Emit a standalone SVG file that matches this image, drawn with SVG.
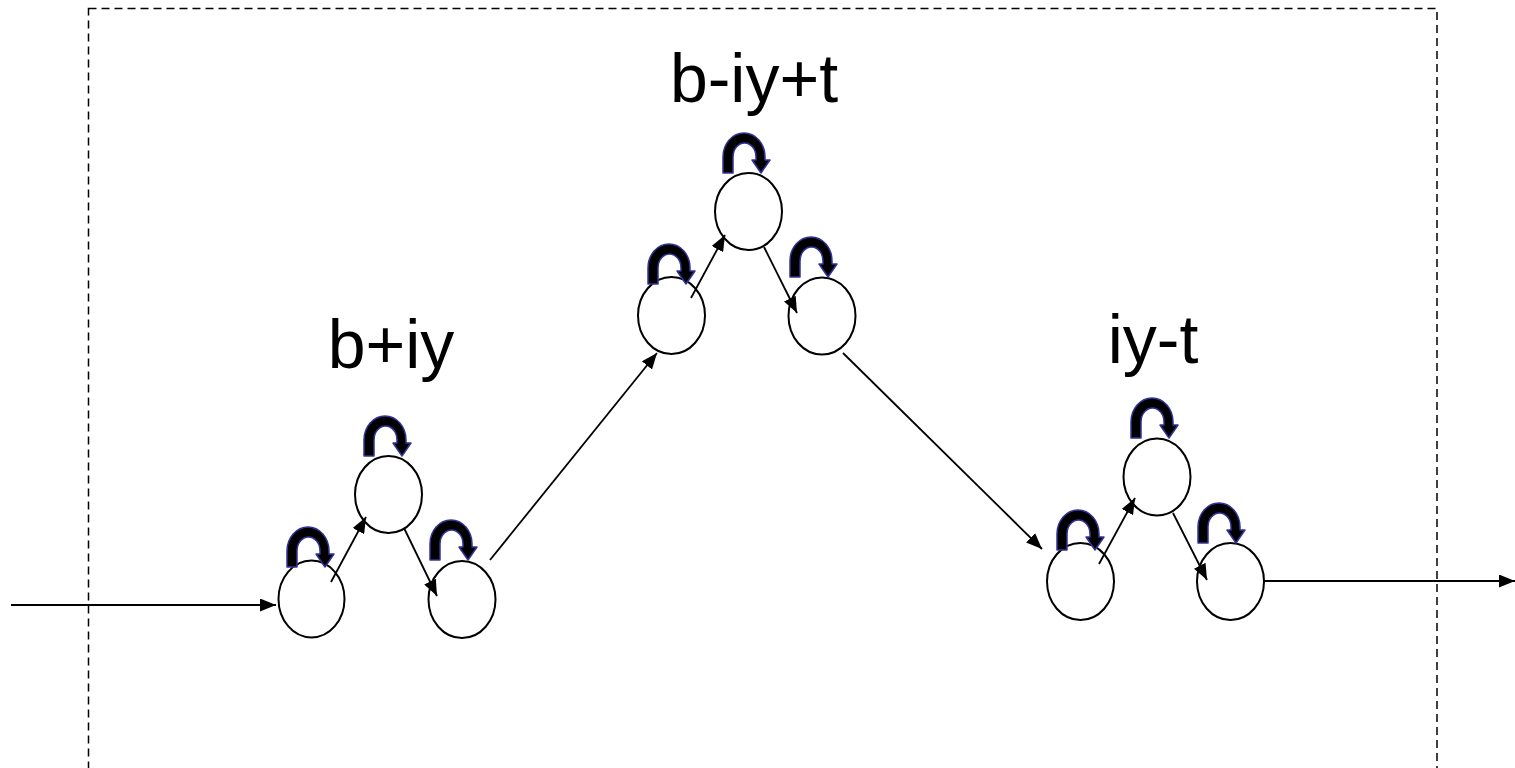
<svg xmlns="http://www.w3.org/2000/svg" width="1515" height="768" viewBox="0 0 1515 768">
  <style>
    .st { fill: none; stroke: #000; stroke-width: 2; }
    .ln { fill: none; stroke: #000; stroke-width: 1.8; marker-end: url(#ah); }
    .lbl { font-family: "Liberation Sans", Arial, sans-serif; font-size: 68px; fill: #000; text-anchor: middle; }
    .loop { fill: #000; stroke: #333399; stroke-width: 1.5; stroke-linejoin: round; }
    .frame { fill: none; stroke: #000; stroke-width: 1.5; stroke-dasharray: 8 5; }
  </style>
  <defs>
    <marker id="ah" markerWidth="16" markerHeight="13" refX="16" refY="6.5" orient="auto" markerUnits="userSpaceOnUse">
      <path d="M0,0 L16,6.5 L0,13 z" fill="#000"/>
    </marker>
    <path id="loop" class="loop" d="M -38 0 L -38 -16 A 21 24 0 0 1 4 -16 L 4 -13 L 9 -13 L 0 0 L -9 -13 L -5 -13 L -5 -16 A 11.5 14 0 0 0 -28 -16 L -28 0 Z"/>
  </defs>
  <rect width="1515" height="768" fill="#fff"/>
  <rect class="frame" x="88.5" y="8.5" width="1348.5" height="800"/>

  <text class="lbl" x="754" y="102">b-iy+t</text>
  <text class="lbl" x="391" y="368">b+iy</text>
  <text class="lbl" x="1153" y="363">iy-t</text>

  <g id="s1"><ellipse class="st" cx="311.5" cy="599" rx="33" ry="38.5"/><use href="#loop" x="325" y="567"/></g>
  <g id="s2"><ellipse class="st" cx="388.5" cy="494.5" rx="33.5" ry="38.5"/><use href="#loop" x="402" y="456"/></g>
  <g id="s3"><ellipse class="st" cx="462" cy="599.5" rx="33.5" ry="38.5"/><use href="#loop" x="468" y="560"/></g>
  <g id="s4"><ellipse class="st" cx="671.5" cy="315.5" rx="33.5" ry="38.5"/><use href="#loop" x="686" y="284"/></g>
  <g id="s5"><ellipse class="st" cx="748.5" cy="211.5" rx="33.5" ry="38.5"/><use href="#loop" x="761" y="173"/></g>
  <g id="s6"><ellipse class="st" cx="822" cy="316" rx="33.5" ry="38.5"/><use href="#loop" x="828" y="277"/></g>
  <g id="s7"><ellipse class="st" cx="1080.5" cy="581.5" rx="33.5" ry="38.5"/><use href="#loop" x="1095" y="550"/></g>
  <g id="s8"><ellipse class="st" cx="1157" cy="477" rx="33.5" ry="38.5"/><use href="#loop" x="1169" y="438"/></g>
  <g id="s9"><ellipse class="st" cx="1230.5" cy="581.5" rx="33.5" ry="38.5"/><use href="#loop" x="1236" y="543"/></g>

  <g id="connectors">
    <line class="ln" x1="11" y1="605" x2="276" y2="605"/>
    <line class="ln" x1="331" y1="582" x2="366" y2="517"/>
    <line class="ln" x1="404" y1="528" x2="437" y2="596"/>
    <line class="ln" x1="490" y1="560" x2="657" y2="353"/>
    <line class="ln" x1="691" y1="298" x2="725" y2="235"/>
    <line class="ln" x1="764" y1="247" x2="797" y2="313"/>
    <line class="ln" x1="843" y1="353" x2="1042" y2="549"/>
    <line class="ln" x1="1099" y1="564" x2="1135" y2="498"/>
    <line class="ln" x1="1173" y1="513" x2="1207" y2="580"/>
    <line class="ln" x1="1264" y1="581" x2="1515" y2="581"/>
  </g>
</svg>
